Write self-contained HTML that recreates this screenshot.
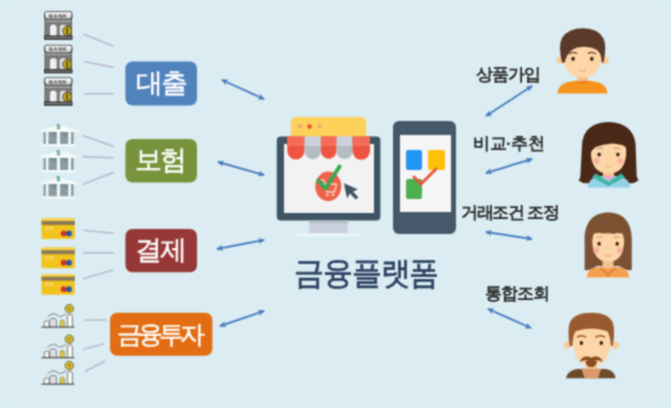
<!DOCTYPE html>
<html><head><meta charset="utf-8">
<style>
html,body{margin:0;padding:0;width:671px;height:408px;overflow:hidden;background:#dbedf2;}
svg{display:block;}

text{font-family:"Liberation Sans",sans-serif;}
</style></head>
<body>
<svg width="671" height="408" viewBox="0 0 671 408">
<defs>
  <filter id="soft" x="-1%" y="-1%" width="102%" height="102%" color-interpolation-filters="sRGB"><feConvolveMatrix order="3" kernelMatrix="1 2 1 2 4 2 1 2 1" divisor="16" edgeMode="duplicate" preserveAlpha="false"/></filter>
  <marker id="ah" viewBox="0 0 10 10" refX="8.5" refY="5" markerWidth="3.6" markerHeight="3.6" orient="auto-start-reverse">
    <path d="M0,0.5 L10,5 L0,9.5 L2.5,5 z" fill="#4a7cc0"/>
  </marker>
  <!-- bank icon -->
  <g id="bank">
    <rect x="0.5" y="8" width="27.5" height="17" fill="#5a5a5a"/>
    <rect x="1.5" y="8.5" width="25.5" height="2.5" fill="#a0a0a0"/>
    <rect x="1.5" y="11" width="25.5" height="2.2" fill="#7a7a7a"/>
    <rect x="1.5" y="13.2" width="25.5" height="11.5" fill="#7c7c7c"/>
    <path d="M6,25 V16.5 Q6,13.5 9.3,13.5 Q12.6,13.5 12.6,16.5 V25 Z" fill="#f0f0f0"/>
    <path d="M15.8,25 V16.5 Q15.8,13.5 19.1,13.5 Q22.4,13.5 22.4,16.5 V25 Z" fill="#e0e0e0"/>
    <rect x="0" y="0.3" width="28.5" height="8.4" rx="3" fill="#3a3a3a"/>
    <rect x="1.1" y="1.3" width="26.3" height="6.4" rx="2.4" fill="#dadada"/>
    <rect x="1.1" y="1.3" width="26.3" height="2.8" rx="1.2" fill="#f6f6f6"/>
    <text x="14.2" y="6.9" font-size="5.6" font-weight="bold" fill="#444" text-anchor="middle" letter-spacing="0.6">BANK</text>
    <rect x="0" y="24.5" width="28.5" height="4.3" fill="#363636"/>
    <rect x="1" y="26" width="26.5" height="1" fill="#9a9a9a"/>
    <circle cx="23.1" cy="19.9" r="4.8" fill="#5a4c12"/>
    <circle cx="23.1" cy="19.9" r="3.8" fill="#c4aa2c"/>
    <rect x="22.4" y="16.8" width="1.5" height="6.3" rx="0.7" fill="#4a3c08"/>
  </g>
  <!-- insurance building -->
  <g id="ins">
    <path d="M0,9 L19.7,2.7 L39.6,9 L39.6,9.8 L0,9.8 Z" fill="#f6fafa"/>
    <text x="19.4" y="7.2" font-size="7.5" fill="#3a9a6a" text-anchor="middle" font-weight="bold">$</text>
    <rect x="4.5" y="10" width="30.1" height="12" fill="#8a9ca2"/>
    <path d="M9.5,10 L17.8,10 L17.8,16 Z" fill="#7a8c92"/>
    <path d="M21,10 L29.2,10 L29.2,16 Z" fill="#7a8c92"/>
    <rect x="6.8" y="10" width="2.7" height="12" fill="#f2f6f6"/>
    <rect x="17.8" y="10" width="3.2" height="12" fill="#f2f6f6"/>
    <rect x="29.2" y="10" width="2.8" height="12" fill="#f2f6f6"/>
    <rect x="2.5" y="22.3" width="34.1" height="2" fill="#f6fafa"/>
  </g>
  <!-- card -->
  <g id="card">
    <rect x="0" y="0" width="33.3" height="20.7" rx="2" fill="#f2c31c"/>
    <rect x="0" y="0" width="33.3" height="2.7" rx="1.5" fill="#f6d24a"/>
    <rect x="0" y="2.7" width="33.3" height="4" fill="#8a7a58"/>
    <rect x="3.5" y="9" width="4" height="1.2" fill="#fbe48a"/>
    <rect x="8.5" y="9" width="4" height="1.2" fill="#fbe48a"/>
    <rect x="3.5" y="11.2" width="9" height="0.8" fill="#f8da6a"/>
    <circle cx="22.2" cy="15.2" r="2.9" fill="#d8301e"/>
    <circle cx="27.4" cy="15.2" r="3" fill="#2a58a8"/>
  </g>
  <!-- investment -->
  <g id="inv">
    <path d="M3.3,23 V18.3 Q3.3,16.8 5.6,16.8 Q8,16.8 8,18.3 V23" fill="#f8f8f8" stroke="#737373" stroke-width="0.95"/>
    <path d="M8.8,23 V16.2 Q8.8,14.4 12.1,14.4 Q15.4,14.4 15.4,16.2 V23" fill="#dcdee0" stroke="#777" stroke-width="0.95"/>
    <path d="M19.3,23 V17.8 Q19.3,16 21.3,16 Q23.3,16 23.3,17.8 V23" fill="#e6cc3a" stroke="#8f8a60" stroke-width="0.9"/>
    <path d="M26.4,23 V12 Q26.4,10.5 29,10.5 Q31.5,10.5 31.5,12 V23" fill="#f6f6f6" stroke="#777" stroke-width="0.95"/>
    <path d="M6.4,13 C9,10.5 11,9.8 13.5,10 C16,10.3 17,12.5 18.5,12.5 C21,12.5 23,11 25.2,9.7" fill="none" stroke="#7a7a7a" stroke-width="1"/>
    <line x1="0.5" y1="23.2" x2="33.4" y2="23.2" stroke="#4e4e4e" stroke-width="1.3"/>
    <circle cx="28.35" cy="4.6" r="4.2" fill="#d2bc36" stroke="#6a6030" stroke-width="0.9"/>
    <path d="M27.4,3.2 L28.35,5 L29.3,3.2 M28.35,5 V6.5" fill="none" stroke="#6a6030" stroke-width="0.7"/>
  </g>
</defs>
<g filter="url(#soft)">
<rect x="0" y="0" width="671" height="408" fill="#dbedf2"/>

<!-- Left icons -->
<use href="#bank" x="44" y="11"/>
<use href="#bank" x="44" y="44.5"/>
<use href="#bank" x="44" y="77"/>

<use href="#ins" x="39" y="122"/>
<use href="#ins" x="39" y="148"/>
<use href="#ins" x="39" y="174.3"/>

<use href="#card" x="41.5" y="218.3"/>
<use href="#card" x="41.5" y="247.5"/>
<use href="#card" x="41.5" y="274"/>

<use href="#inv" x="41" y="304"/>
<use href="#inv" x="41" y="334.5"/>
<use href="#inv" x="41" y="361"/>

<!-- connector lines -->
<g stroke="#bab6d2" stroke-width="1.6" stroke-linecap="round">
  <line x1="84" y1="34.5" x2="113" y2="45.8"/>
  <line x1="84" y1="61.5" x2="113" y2="67.4"/>
  <line x1="85" y1="93.8" x2="113" y2="93.8"/>
  <line x1="83.4" y1="135.7" x2="113.3" y2="146.3"/>
  <line x1="83.4" y1="156.6" x2="113.3" y2="157.8"/>
  <line x1="83.4" y1="184" x2="113.3" y2="172.5"/>
  <line x1="84" y1="230.3" x2="113.3" y2="233.3"/>
  <line x1="84" y1="252.9" x2="113" y2="252.9"/>
  <line x1="84" y1="278.6" x2="113" y2="270"/>
  <line x1="84" y1="320.2" x2="106" y2="320"/>
  <line x1="84" y1="349" x2="103.5" y2="344"/>
  <line x1="85" y1="371.5" x2="104.8" y2="361.2"/>
</g>

<!-- category boxes -->
<rect x="125.4" y="61.5" width="71.6" height="44" rx="7" fill="#5082bc"/>
<rect x="125.4" y="139" width="71.6" height="43.5" rx="7" fill="#77943c"/>
<rect x="125.4" y="229" width="71.6" height="43.3" rx="7" fill="#973838"/>
<rect x="110" y="312.8" width="102.4" height="43" rx="7" fill="#e26d12"/>
<g fill="#ffffff" stroke="#ffffff" stroke-width="0.45" font-size="26.5" letter-spacing="-2">
  <text x="136" y="91.7">대출</text>
  <text x="134.5" y="169.3">보험</text>
  <text x="135" y="259.3">결제</text>
  <text x="116.5" y="342.5" font-size="25" letter-spacing="-3.7">금융투자</text>
</g>

<!-- arrows left -->
<g stroke="#4a7cc0" stroke-width="1.9" fill="none" marker-start="url(#ah)" marker-end="url(#ah)">
  <line x1="222" y1="80" x2="264" y2="99"/>
  <line x1="218" y1="162" x2="264" y2="175"/>
  <line x1="217" y1="249" x2="264" y2="240"/>
  <line x1="220" y1="326" x2="264" y2="311"/>
</g>

<!-- monitor -->
<g>
  <rect x="276.8" y="136.5" width="103.6" height="84" rx="4" fill="#3f5563"/>
  <rect x="284" y="144" width="90" height="69" fill="#f2f2f2"/>
  <rect x="309.2" y="220.5" width="38.5" height="12.7" fill="#c9d1dc"/>
  <rect x="309.2" y="220.5" width="38.5" height="2.5" fill="#b0bac6"/>
  <rect x="297" y="233.4" width="63" height="3" rx="1" fill="#ecf3f6"/>
  <path d="M291,137 V122 a5,5 0 0 1 5,-5 H361 a5,5 0 0 1 5,5 V137 Z" fill="#fcd25a"/>
  <circle cx="300" cy="126.5" r="2.2" fill="#f5a86a"/>
  <circle cx="309.5" cy="126.5" r="2.2" fill="#e8503a"/>
  <circle cx="319.7" cy="126.5" r="2.2" fill="#f5a86a"/>
  <path d="M287.3,136.5 H304.5 V151 a8.6,8.6 0 0 1 -17.2,0 Z" fill="#ee5541"/>
  <path d="M304.5,136.5 H320.9 V151 a8.2,8.2 0 0 1 -16.4,0 Z" fill="#b3bbc3"/>
  <path d="M320.9,136.5 H336.5 V151 a7.8,7.8 0 0 1 -15.6,0 Z" fill="#ee5541"/>
  <path d="M336.5,136.5 H352.5 V151 a8,8 0 0 1 -16,0 Z" fill="#b3bbc3"/>
  <path d="M352.5,136.5 H370 V151 a8.75,8.75 0 0 1 -17.5,0 Z" fill="#ee5541"/>
  <rect x="287.3" y="136.5" width="17.2" height="9.5" fill="#f46b57"/>
  <rect x="304.5" y="136.5" width="16.4" height="9.5" fill="#cbd2d9"/>
  <rect x="320.9" y="136.5" width="15.6" height="9.5" fill="#f46b57"/>
  <rect x="336.5" y="136.5" width="16" height="9.5" fill="#cbd2d9"/>
  <rect x="352.5" y="136.5" width="17.5" height="9.5" fill="#f46b57"/>
  <ellipse cx="328.3" cy="186.4" rx="13" ry="14.8" fill="#f0624a"/>
  <path d="M321,180 H324 L326.5,192 H334.5 L336.5,184 H325" fill="none" stroke="#fbd3c8" stroke-width="1.3" stroke-linejoin="round"/>
  <circle cx="327.5" cy="195" r="1.3" fill="#fbd3c8"/>
  <circle cx="333" cy="195" r="1.3" fill="#fbd3c8"/>
  <path d="M318,180.5 L325.7,188.5 L339.5,166.5" fill="none" stroke="#3da854" stroke-width="4" stroke-linecap="round" stroke-linejoin="round"/>
  <path d="M344,183.3 L358,189.5 L353,191.5 L358.5,197.5 L355.5,199.5 L350,193.5 L347,198.5 Z" fill="#3f5563"/>
</g>

<!-- phone -->
<g>
  <rect x="393" y="121" width="63" height="113" rx="6" fill="#45596a"/>
  <rect x="400" y="135" width="51" height="77" fill="#f5f5f5"/>
  <rect x="406" y="150" width="16" height="20" rx="2" fill="#2196f3"/>
  <rect x="428" y="150" width="17" height="20" rx="2" fill="#ffc107"/>
  <rect x="406" y="179" width="16" height="20" rx="2" fill="#4caf50"/>
  <path d="M414,177 L421,184 L436,169" fill="none" stroke="#e8553a" stroke-width="3" stroke-linecap="round"/>
</g>

<!-- title -->
<text x="294.5" y="284.5" font-size="30" letter-spacing="-1.2" fill="#2c4263" stroke="#2c4263" stroke-width="0.7" transform="translate(0,284.5) scale(1,1.07) translate(0,-284.5)">금융플랫폼</text>

<!-- right labels -->
<g fill="#252525" font-size="17" font-weight="bold">
  <text x="475.5" y="79.5" letter-spacing="-1">상품가입</text>
  <text x="473" y="149" letter-spacing="-0.5">비교·추천</text>
  <text x="461" y="218" letter-spacing="-1.3">거래조건 조정</text>
  <text x="484.5" y="299.4" letter-spacing="-0.8">통합조회</text>
</g>

<!-- arrows right -->
<g stroke="#4a7cc0" stroke-width="1.9" fill="none" marker-start="url(#ah)" marker-end="url(#ah)">
  <line x1="486" y1="116" x2="532" y2="86"/>
  <line x1="486" y1="173" x2="532" y2="159"/>
  <line x1="486" y1="232" x2="532" y2="239"/>
  <line x1="488" y1="309" x2="531" y2="328"/>
</g>

<!-- people -->
<!-- boy 1 -->
<g>
  <path d="M557.5,93.5 Q558.5,83 571,81.5 Q577,80.5 582.5,80.5 Q588,80.5 594,81.5 Q606.5,83 607.5,93.5 Z" fill="#f7941d"/>
  <rect x="577" y="73" width="11" height="9" fill="#f3bf8c"/>
  <path d="M574.5,81 Q582.5,86.5 590.5,81 Z" fill="#e8801a"/>
  <circle cx="560.2" cy="60.5" r="3.8" fill="#fbcd9a"/>
  <circle cx="604.9" cy="60.5" r="3.8" fill="#fbcd9a"/>
  <path d="M563.5,52 Q563,77.5 582.5,77.5 Q602,77.5 601.5,52 Q601,38 582.5,38 Q564,38 563.5,52 Z" fill="#fdd6a8"/>
  <path d="M562,62.5 Q558,46 562,38 Q568,28.2 583,28.2 Q598,28.2 603.5,38.5 Q607,46 603.5,62.5 L601.7,62.5 Q601.5,53 597,50 Q590,46.5 581.5,46.9 Q573,47.5 569.5,52.5 Q565.5,57 565,62.5 Z" fill="#5b3a29"/>
  <path d="M569.5,53.8 Q573,51.2 576.8,53.3" fill="none" stroke="#5b3a29" stroke-width="1.3" stroke-linecap="round"/>
  <path d="M588.2,53.3 Q592,51.2 595.5,53.8" fill="none" stroke="#5b3a29" stroke-width="1.3" stroke-linecap="round"/>
  <ellipse cx="573.1" cy="58.8" rx="1.8" ry="2.1" fill="#3a2418"/>
  <ellipse cx="591.8" cy="58.8" rx="1.8" ry="2.1" fill="#3a2418"/>
  <path d="M579,70.5 Q582.5,72.5 586,70.5" fill="none" stroke="#e2a27c" stroke-width="1"/>
</g>
<!-- girl 1 -->
<g>
  <path d="M608.5,122 Q634,123 635.6,145 L636.7,176 Q637.5,179 638.5,180.5 Q634,184 628,183 L589,183 Q583,184 578.5,180.5 Q580,179 580.4,176 L582,145 Q583,123 608.5,122 Z" fill="#4a2818"/>
  <path d="M587.5,187.5 Q589,178 598,176 L619,176 Q629,178 630.5,187.5 Z" fill="#92d2e6"/>
  <path d="M596,173.5 L608.5,182 L621,173.5 L625,177 L608.5,186 L592,177 Z" fill="#3db3a2"/>
  <path d="M602,175.5 L608.5,180.5 L615,175.5 Z" fill="#f2a6be"/>
  <rect x="603" y="168" width="11" height="8" fill="#f3bf8c"/>
  <path d="M590.8,150 Q590.5,173.5 608.5,173.5 Q626.5,173.5 626.2,150 Q626,138 608.5,138 Q591,138 590.8,150 Z" fill="#fdd6a8"/>
  <path d="M589.5,156 Q589,134 608.5,132 Q628,134 628,156 L627.3,156 L627.2,150 Q626,147 624.2,146 Q620,144 611.5,143.5 Q603,144.5 597,146.5 Q592,149 590.9,153 L590.6,156 Z" fill="#4a2818"/>
  <path d="M596.8,148.8 Q600,147.3 603.1,148.5" fill="none" stroke="#b88a6a" stroke-width="1"/>
  <path d="M614,148.5 Q617.2,147.3 620.3,148.8" fill="none" stroke="#b88a6a" stroke-width="1"/>
  <ellipse cx="599.2" cy="154.4" rx="1.7" ry="2" fill="#3a2418"/>
  <ellipse cx="617.9" cy="154.4" rx="1.7" ry="2" fill="#3a2418"/>
  <circle cx="596.7" cy="161" r="3" fill="#f5aaa0" opacity="0.85"/>
  <circle cx="620.3" cy="161" r="3" fill="#f5aaa0" opacity="0.85"/>
  <path d="M605,166 Q608.5,168 612,166" fill="none" stroke="#e2a27c" stroke-width="1"/>
</g>
<!-- girl 2 -->
<g>
  <path d="M584.6,270 L584.6,240 C584.6,221 594,212.5 608.2,212.5 C622.4,212.5 631.8,221 631.8,240 L631.8,270 Q626,271 619,266 L597,266 Q590,271 584.6,270 Z" fill="#7a5232"/>
  <path d="M586.5,277.6 Q587.5,269 596,267.3 L620,267.3 Q628.5,269 629.5,277.6 Z" fill="#f5a04e"/>
  <rect x="602.5" y="258" width="11" height="10" fill="#f3bf8c"/>
  <path d="M599,267.3 L608,276.5 L617,267.3 L614.5,267.3 L608,273.5 L601.5,267.3 Z" fill="#e07e34"/>
  <path d="M592.2,238 Q591.8,261.8 608.2,261.8 Q624.6,261.8 624.2,238 Q624,229 608.2,229 Q592.4,229 592.2,238 Z" fill="#fdd6a8"/>
  <path d="M590.5,240 L590.5,229 Q592,220 608.2,220 Q624.4,220 626,229 L626,240 L624.2,240 Q623.5,236 622.3,233.5 L616,233 L614.5,234 L609,233.2 L602,233.6 L600.5,232.8 L594,233.6 Q592.8,236 592.2,240 Z" fill="#7a5232"/>
  <path d="M596.5,237.5 Q599.5,236.3 602.5,237.3" fill="none" stroke="#b88a6a" stroke-width="0.9"/>
  <path d="M614,237.3 Q617,236.3 620,237.5" fill="none" stroke="#b88a6a" stroke-width="0.9"/>
  <ellipse cx="599.1" cy="243.7" rx="1.7" ry="2" fill="#3a2418"/>
  <ellipse cx="617.2" cy="243.7" rx="1.7" ry="2" fill="#3a2418"/>
  <circle cx="596" cy="250.3" r="3" fill="#f5aaa0" opacity="0.85"/>
  <circle cx="619.9" cy="250.3" r="3" fill="#f5aaa0" opacity="0.85"/>
  <path d="M604,255 Q607.8,257.3 611.5,255" fill="none" stroke="#e2a27c" stroke-width="1"/>
</g>
<!-- man 2 -->
<g>
  <path d="M566,378.3 Q567,371 577,369 L606,369 Q615,371 615.6,378.3 Z" fill="#6e4a2c"/>
  <path d="M581.4,368.5 L601.3,368.5 L598,378.3 L584.7,378.3 Z" fill="#d89a6e"/>
  <rect x="586" y="361" width="11" height="8" fill="#f3bf8c"/>
  <circle cx="567.3" cy="345.2" r="3.8" fill="#fbcd9a"/>
  <circle cx="615.4" cy="345.2" r="3.8" fill="#fbcd9a"/>
  <path d="M572.6,336 Q572.2,366 591.3,366 Q611.4,366 611.2,336 Q611,322 591.3,322 Q573,322 572.6,336 Z" fill="#fdd6a8"/>
  <path d="M569.8,346 Q567,330 570,322 Q575,312.8 591.3,312.8 Q607.5,312.8 612.5,322 Q615.5,330 612.7,346 L611,346 Q610,334 607,331 Q599,328.5 591.3,328.5 Q583.5,328.5 576,331 Q573,334 572.3,346 Z" fill="#9a5a30"/>
  <path d="M577.5,337 Q581.5,334.5 585.5,337" fill="none" stroke="#9a5a30" stroke-width="1.5" stroke-linecap="round"/>
  <path d="M596,337 Q600,334.5 604.5,337" fill="none" stroke="#9a5a30" stroke-width="1.5" stroke-linecap="round"/>
  <ellipse cx="581.4" cy="343" rx="1.8" ry="2.1" fill="#3a2418"/>
  <ellipse cx="601.3" cy="343" rx="1.8" ry="2.1" fill="#3a2418"/>
  <path d="M580,362 Q581,357 586,356.5 Q589.5,356.3 591.3,357.8 Q593,356.3 596.5,356.5 Q601.5,357 602.5,362 Q599,359.8 596,360.3 Q593.5,360.8 591.3,360.8 Q589,360.8 586.5,360.3 Q583.5,359.8 580,362 Z" fill="#8a4a22"/>
  <path d="M585.5,361 Q591.3,359.5 597,361 Q596.5,367 591.3,367 Q586,367 585.5,361 Z" fill="#8a4a22"/>
</g>
</g>
</svg>
</body></html>
